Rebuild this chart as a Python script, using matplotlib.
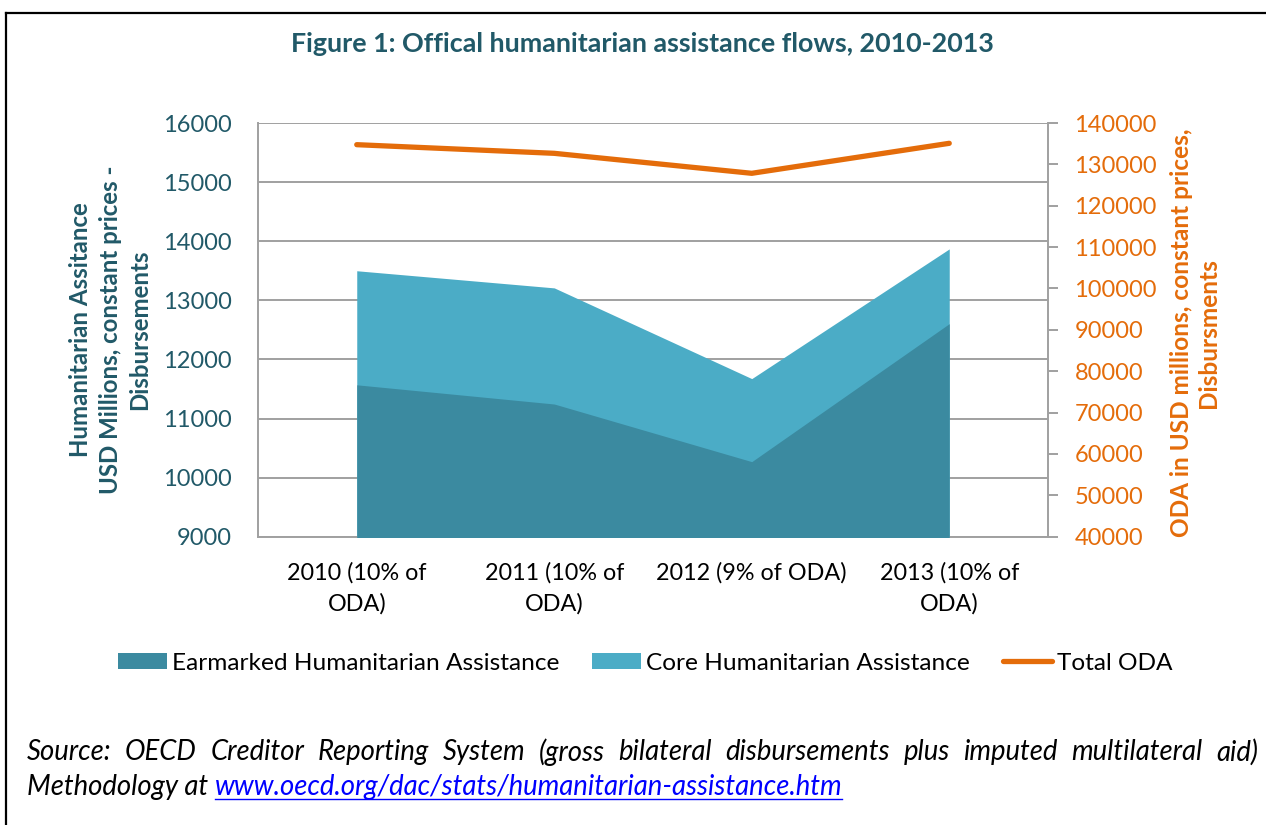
import matplotlib
matplotlib.use("Agg")
import matplotlib.pyplot as plt
from matplotlib.patches import Patch
from matplotlib.lines import Line2D

plt.rcParams['font.family'] = ['Lato', 'DejaVu Sans']

categories = ["2010 (10% of\nODA)", "2011 (10% of\nODA)", "2012 (9% of ODA)", "2013 (10% of\nODA)"]
earmarked = [11570, 11245, 10270, 12605]
core_total = [13500, 13210, 11675, 13870]   # top of stacked area
total_oda = [134760, 132670, 127840, 135090]
left_ticks = [9000, 10000, 11000, 12000, 13000, 14000, 15000, 16000]
right_ticks = list(range(40000, 140001, 10000))

TEAL_DARK = "#3B8AA0"
TEAL_LIGHT = "#4BACC6"
ORANGE = "#E46C0A"
TITLE_C = "#215968"
GRID = "#A0A0A0"

W, H = 1266, 825
fig = plt.figure(figsize=(W / 100, H / 100), dpi=100)
ax = fig.add_axes([258 / W, 1 - 536.7 / H, (1048 - 258) / W, (536.7 - 123) / H])

x = list(range(len(categories)))
ax.fill_between(x, 0, core_total, color=TEAL_LIGHT, linewidth=0, zorder=2)
ax.fill_between(x, 0, earmarked, color=TEAL_DARK, linewidth=0, zorder=3)
ax.set_xlim(-0.5, 3.5)
ax.set_ylim(9000, 16000)
ax.set_yticks(left_ticks)
ax.yaxis.grid(True, color=GRID, linewidth=1.4, zorder=1)
ax.set_axisbelow(True)
for s in ["top", "right"]:
    ax.spines[s].set_visible(False)
for s in ["left", "bottom"]:
    ax.spines[s].set_color(GRID)
    ax.spines[s].set_linewidth(1.4)
ax.tick_params(axis='y', length=0, pad=19, labelsize=17, labelcolor=TITLE_C)
ax.tick_params(axis='x', length=0, pad=18, labelsize=16.8, labelcolor="black")
ax.set_xticks(x)
ax.set_xticklabels(categories, linespacing=1.55)

ax2 = ax.twinx()
ax2.plot(x, total_oda, color=ORANGE, linewidth=3.8, solid_capstyle='round', zorder=5)
ax2.set_ylim(40000, 140000)
ax2.set_yticks(right_ticks)
for s in ["top", "left", "bottom"]:
    ax2.spines[s].set_visible(False)
ax2.spines["right"].set_color(GRID)
ax2.spines["right"].set_linewidth(1.4)
ax2.tick_params(axis='y', length=7, width=1.4, color=GRID, direction='out', pad=12,
                labelsize=17, labelcolor=ORANGE)

fig.text(110 / W, 1 - 330 / H, "Humanitarian Assitance\nUSD Millions, constant prices -\nDisbursements",
         rotation=90, ha='center', va='center', fontsize=17.3, fontweight='bold', color=TITLE_C,
         linespacing=1.35)
fig.text(1195 / W, 1 - 333 / H, "ODA in USD millions, constant prices,\nDisbursments",
         rotation=90, ha='center', va='center', fontsize=17.6, fontweight='bold', color=ORANGE,
         linespacing=1.25)

fig.text(642 / W, 1 - 44 / H, "Figure 1: Offical humanitarian assistance flows, 2010-2013",
         ha='center', va='center', fontsize=19.4, fontweight='bold', color=TITLE_C)

handles = [Patch(facecolor=TEAL_DARK, edgecolor='none'),
           Patch(facecolor=TEAL_LIGHT, edgecolor='none'),
           Line2D([0], [0], color=ORANGE, linewidth=3.8, solid_capstyle='round')]
labels = ["Earmarked Humanitarian Assistance", "Core Humanitarian Assistance", "Total ODA"]
fig.legend(handles, labels, loc='center', bbox_to_anchor=(645 / W, 1 - 663 / H), ncol=3,
           frameon=False, fontsize=17.6, handlelength=2.0, handleheight=0.6, handletextpad=0.2,
           columnspacing=1.35)

# Source text, first line justified
fs = 19.8
renderer = fig.canvas.get_renderer()
line1 = "Source: OECD Creditor Reporting System (gross bilateral disbursements plus imputed multilateral aid)"
words = line1.split(" ")
x0, x1 = 27, 1258
y1 = 1 - 752 / H
txts = [fig.text(0, y1, w, fontsize=fs, style='italic', color='black', va='center', ha='left') for w in words]
widths = [t.get_window_extent(renderer).width for t in txts]
gap = max((x1 - x0 - sum(widths)) / (len(words) - 1), 3)
pos = x0
for t, w in zip(txts, widths):
    t.set_x(pos / W)
    pos += w + gap

y2 = 1 - 787 / H
t1 = fig.text(27 / W, y2, "Methodology at ", fontsize=fs, style='italic', color='black', va='center', ha='left')
w1 = t1.get_window_extent(renderer).width
link = fig.text((27 + w1) / W, y2, "www.oecd.org/dac/stats/humanitarian-assistance.htm", fontsize=fs,
                style='italic', color='#0000FF', va='center', ha='left')
bb = link.get_window_extent(renderer)
fig.add_artist(Line2D([bb.x0 / W, bb.x1 / W], [(bb.y0 + 1) / H, (bb.y0 + 1) / H],
                      color='#0000FF', linewidth=1.0))

# Outer frame (left and top edges)
fig.add_artist(Line2D([6 / W, 6 / W], [0, 1 - 13 / H], color='black', linewidth=1.6))
fig.add_artist(Line2D([6 / W, 1], [1 - 13 / H, 1 - 13 / H], color='black', linewidth=1.6))

fig.savefig("out.png", dpi=100)
